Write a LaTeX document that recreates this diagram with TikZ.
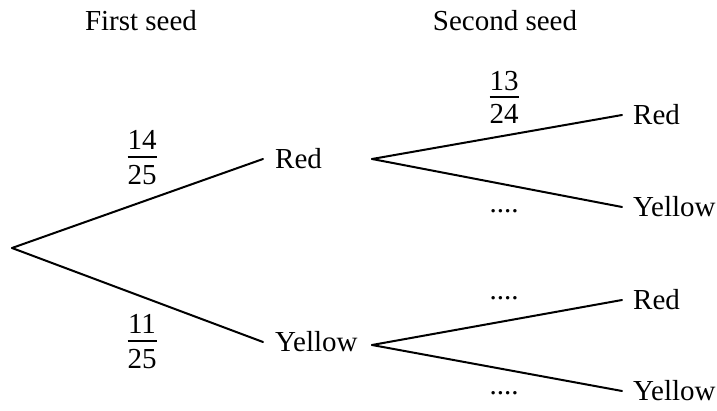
\documentclass[tikz,border=0pt]{standalone}
\usepackage{fontspec}
\setmainfont{Liberation Serif}
\begin{document}
\begin{tikzpicture}[x=1pt,y=-1pt,
  every node/.style={font=\fontsize{29}{34}\selectfont},
  outcome/.style={anchor=west,inner xsep=12pt,inner ysep=0pt,text height=19pt,text depth=0pt},
  branch/.style={line width=2pt,line cap=round},
  digits/.style={anchor=base,inner sep=0pt},
  fracbar/.style={line width=1.8pt},
  heading/.style={anchor=base}]
\useasboundingbox (0,0) rectangle (717,411);
% headings
\node[heading] (h1) at (141,31) {First seed};
\node[heading] (h2) at (505,31) {Second seed};
% first stage
\coordinate (root) at (12,248);
\node[outcome] (R) at (263,159) {Red};
\node[outcome] (Y) at (263,342) {Yellow};
\draw[branch] (root) -- (R.west);
\draw[branch] (root) -- (Y.west);
% fraction 14/25
\coordinate (f1) at (142,157);
\node[digits] (f1n) at (142,150) {14};
\node[digits] (f1d) at (142,185) {25};
\draw[fracbar] ([xshift=-14.5pt]f1) -- ([xshift=14.5pt]f1);
% fraction 11/25
\coordinate (f2) at (142,341);
\node[digits] (f2n) at (142,334) {11};
\node[digits] (f2d) at (142,368) {25};
\draw[fracbar] ([xshift=-14.5pt]f2) -- ([xshift=14.5pt]f2);
% second stage
\coordinate (bR) at (372,159);
\coordinate (bY) at (372,345);
\node[outcome,inner xsep=11pt] (RR) at (622,115) {Red};
\node[outcome,inner xsep=11pt] (RY) at (622,207) {Yellow};
\node[outcome,inner xsep=11pt] (YR) at (622,300) {Red};
\node[outcome,inner xsep=11pt] (YY) at (622,391) {Yellow};
\draw[branch] (bR) -- (RR.west);
\draw[branch] (bR) -- (RY.west);
\draw[branch] (bY) -- (YR.west);
\draw[branch] (bY) -- (YY.west);
% fraction 13/24
\coordinate (f3) at (504,97);
\node[digits] (f3n) at (504,91) {13};
\node[digits] (f3d) at (504,124) {24};
\draw[fracbar] ([xshift=-14.5pt]f3) -- ([xshift=14.5pt]f3);
% unknown probabilities
\node[digits] (d1) at (504,213) {....};
\node[digits] (d2) at (504,300) {....};
\node[digits] (d3) at (504,394) {....};
\end{tikzpicture}
\end{document}
